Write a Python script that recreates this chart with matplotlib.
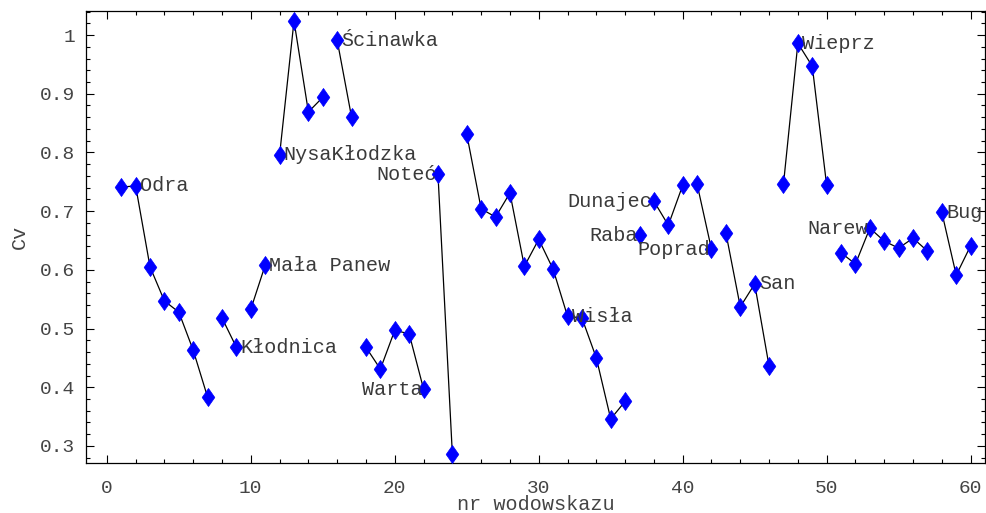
import matplotlib
matplotlib.use('Agg')
import matplotlib.pyplot as plt
from matplotlib.ticker import MultipleLocator
from matplotlib.path import Path
import numpy as np

# gauge numbers and coefficient of variation
nr = np.arange(1, 61)
cv = [0.741, 0.743, 0.605, 0.547, 0.528, 0.463, 0.383,
      0.518, 0.468,
      0.533, 0.608,
      0.796, 1.024, 0.869, 0.894,
      0.991, 0.860,
      0.468, 0.431, 0.497, 0.491, 0.397,
      0.763, 0.286,
      0.831, 0.704, 0.690, 0.731, 0.606, 0.652, 0.601, 0.521, 0.518, 0.450, 0.346, 0.376,
      0.659,
      0.717, 0.676, 0.744,
      0.746, 0.635,
      0.663, 0.537, 0.576, 0.436,
      0.746, 0.986, 0.947, 0.744,
      0.629, 0.610, 0.671, 0.649, 0.637, 0.654, 0.632,
      0.698, 0.591, 0.641]

# rivers: (first gauge, last gauge)
rivers = [(1, 7), (8, 9), (10, 11), (12, 15), (16, 17), (18, 22), (23, 24),
          (25, 36), (37, 37), (38, 40), (41, 42), (43, 46), (47, 50),
          (51, 57), (58, 60)]

# labels: (gauge, name, side)
labels = [(2, 'Odra', 'r'), (9, 'Kłodnica', 'r'), (11, 'Mała Panew', 'r'),
          (12, 'NysaKłodzka', 'r'), (16, 'Ścinawka', 'r'), (22, 'Warta', 'l'),
          (23, 'Noteć', 'l'), (32, 'Wisła', 'r'), (37, 'Raba', 'l'),
          (38, 'Dunajec', 'l'), (42, 'Poprad', 'l'), (45, 'San', 'r'),
          (48, 'Wieprz', 'r'), (53, 'Narew', 'l'), (58, 'Bug', 'r')]

mono = 'Liberation Mono'
txtcol = '#3a3a3a'

# tall diamond like Mathematica's
diamond = Path([(0, 1), (0.7, 0), (0, -1), (-0.7, 0), (0, 1)],
               [Path.MOVETO, Path.LINETO, Path.LINETO, Path.LINETO, Path.CLOSEPOLY])

fig = plt.figure(figsize=(9.86, 5.13), dpi=100)
ax = fig.add_axes([0.0872, 0.0975, 0.9118, 0.8811])

cv = np.array(cv)
for a, b in rivers:
    ax.plot(nr[a-1:b], cv[a-1:b], color='black', lw=0.9, zorder=2)
ax.plot(nr, cv, linestyle='none', marker=diamond, markersize=13,
        markerfacecolor='#0000ff', markeredgecolor='#0000ff', markeredgewidth=0.5,
        zorder=3)

for g, name, side in labels:
    if side == 'r':
        ax.annotate(name, (nr[g-1], cv[g-1]), xytext=(3, 0), textcoords='offset points',
                    ha='left', va='center', fontsize=14.5, family=mono, color=txtcol)
    else:
        ax.annotate(name, (nr[g-1], cv[g-1]), xytext=(-1, 0), textcoords='offset points',
                    ha='right', va='center', fontsize=14.5, family=mono, color=txtcol)

ax.set_xlim(-1.45, 61.0)
ax.set_ylim(0.271, 1.041)
ax.xaxis.set_major_locator(MultipleLocator(10))
ax.xaxis.set_minor_locator(MultipleLocator(2))
ax.yaxis.set_minor_locator(MultipleLocator(0.02))
ax.set_yticks([0.3, 0.4, 0.5, 0.6, 0.7, 0.8, 0.9, 1.0])
ax.set_yticklabels(['0.3', '0.4', '0.5', '0.6', '0.7', '0.8', '0.9', '1'])
ax.tick_params(which='both', direction='in', top=True, right=True, width=0.8,
               labelsize=14, labelcolor='#444444')
ax.tick_params(axis='y', which='both', pad=8)
ax.tick_params(axis='x', which='both', pad=12)
ax.tick_params(which='major', length=6)
ax.tick_params(which='minor', length=3)
for lab in ax.get_xticklabels() + ax.get_yticklabels():
    lab.set_family(mono)
for s in ax.spines.values():
    s.set_linewidth(0.9)

ax.set_xlabel('nr wodowskazu', family=mono, fontsize=14.5, color='#444444', labelpad=-1)
ax.set_ylabel('Cv', family=mono, fontsize=14.5, color='#444444', labelpad=8)

fig.savefig('out.png', dpi=100)
